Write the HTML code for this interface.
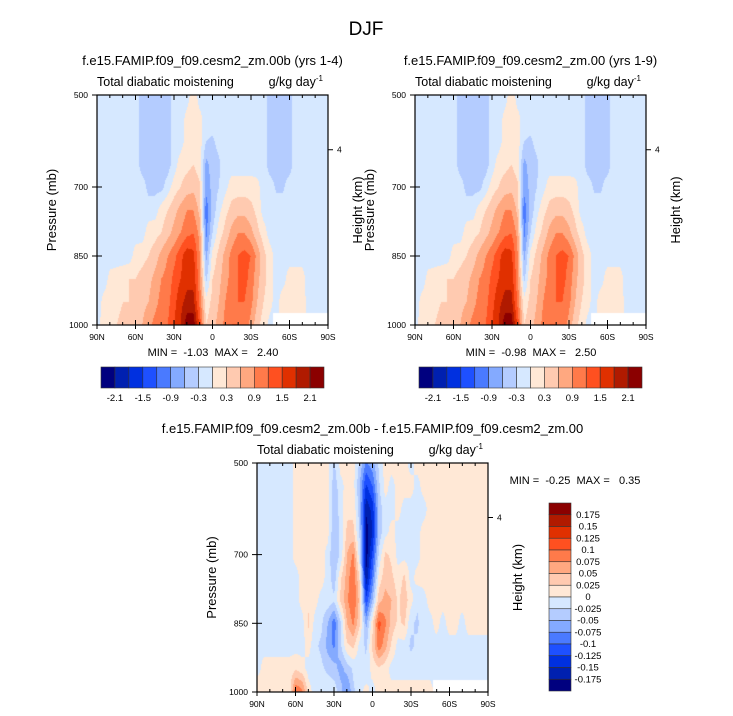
<!DOCTYPE html>
<html><head><meta charset="utf-8">
<style>
body{margin:0;background:#fff;width:733px;height:716px;overflow:hidden;font-family:"Liberation Sans",sans-serif;}
#root{position:relative;width:733px;height:716px;}
canvas{position:absolute;}
svg{position:absolute;left:0;top:0;}
text{white-space:pre;}
</style></head>
<body><div id="root">
<canvas id="c1" width="231" height="230" style="left:97px;top:95px"></canvas>
<canvas id="c2" width="231" height="230" style="left:415px;top:95px"></canvas>
<canvas id="c3" width="231" height="229" style="left:257px;top:463px"></canvas>
<svg id="ov" width="733" height="716"></svg>
</div>
<script>
const pressures=[500,550,600,650,700,750,800,850,900,950,1000];
const xTickLabels=["90N","60N","30N","0","30S","60S","90S"];
const yTickLabels=[500,700,850,1000];
const levelsA=[-2.1,-1.8,-1.5,-1.2,-0.9,-0.6,-0.3,0,0.3,0.6,0.9,1.2,1.5,1.8,2.1];
const levelsB=[-0.175,-0.15,-0.125,-0.1,-0.075,-0.05,-0.025,0,0.025,0.05,0.075,0.1,0.125,0.15,0.175];
const cbLabelsA=["-2.1","-1.5","-0.9","-0.3","0.3","0.9","1.5","2.1"];
const cbLabelsB=["0.175","0.15","0.125","0.1","0.075","0.05","0.025","0","-0.025","-0.05","-0.075","-0.1","-0.125","-0.15","-0.175"];
const colors=["#00007f","#0020b0","#0030e0","#1e50ff","#4a7aff","#84aaff","#b4ccff","#d6e8ff","#ffe8d6","#ffcab0","#ffa880","#ff7a4a","#ff5020","#e03000","#b01a00","#8b0000"];
const N=NaN;
// 37 columns: 90N..90S every 5 deg; rows = pressures
const fieldCtl=[
[-.15,-.15,-.15,-.15,-.15,-.15,-.15,-.45,-.45,-.45,-.45,-.45,-.15,-.15,-.15,.2,-.15,-.15,-.15,-.15,-.15,-.15,-.15,-.15,-.15,-.15,-.15,-.45,-.45,-.45,-.45,-.15,-.15,-.15,-.15,-.15,-.15],
[-.15,-.15,-.15,-.15,-.15,-.15,-.15,-.45,-.45,-.45,-.45,-.45,-.15,-.15,.1,.2,.1,-.15,-.15,-.15,-.15,-.15,-.15,-.15,-.15,-.15,-.15,-.45,-.45,-.45,-.45,-.15,-.15,-.15,-.15,-.15,-.15],
[-.15,-.15,-.15,-.15,-.15,-.15,-.15,-.45,-.45,-.45,-.45,-.45,-.15,-.15,.15,.2,.15,-.3,-.35,-.2,-.15,-.15,-.15,-.15,-.15,-.15,-.15,-.45,-.45,-.45,-.45,-.15,-.15,-.15,-.15,-.15,-.15],
[-.15,-.15,-.15,-.15,-.15,-.15,-.15,-.45,-.45,-.45,-.45,-.45,-.15,.15,.2,.3,.15,-.7,-.45,-.35,-.15,-.15,-.15,-.15,-.15,-.15,-.15,-.45,-.45,-.45,-.45,-.15,-.15,-.15,-.15,-.15,-.15],
[-.15,-.15,-.15,-.15,-.15,-.15,-.15,-.15,-.4,-.4,-.4,-.15,.15,.3,.45,.5,.35,-.8,-.5,-.3,-.1,.15,.15,.15,.15,.1,-.15,-.15,-.35,-.35,-.15,-.15,-.15,-.15,-.15,-.15,-.15],
[-.15,-.15,-.15,-.15,-.15,-.15,-.15,-.15,-.15,-.15,.15,.3,.5,.7,.9,.9,.5,-1.1,-.5,-.1,.2,.4,.5,.5,.4,.2,-.15,-.15,-.15,-.15,-.15,-.15,-.15,-.15,-.15,-.15,-.15],
[-.15,-.15,-.15,-.15,-.15,-.15,-.15,-.15,.15,.2,.3,.5,.7,.9,1.1,1.2,.8,-1.0,-.3,.15,.4,.7,.9,.9,.7,.4,.15,-.15,-.15,-.15,-.15,-.15,-.15,-.15,-.15,-.15,-.15],
[-.15,-.15,-.15,-.15,-.15,-.15,.15,.2,.3,.45,.7,.9,1.1,1.4,1.7,1.6,.9,-.7,.1,.4,.7,1.0,1.2,1.3,1.2,.8,.4,.15,-.15,-.15,-.15,-.15,-.15,-.15,-.15,-.15,-.15],
[-.15,-.15,.1,.15,.2,.3,.3,.4,.5,.7,.9,1.0,1.3,1.5,1.7,1.7,1.0,-.4,.3,.5,.8,1.0,1.2,1.3,1.1,.7,.4,.15,-.15,-.15,.15,.15,.15,-.15,-.15,-.15,-.15],
[-.15,.1,.15,.2,.3,.3,.4,.5,.6,.8,1.0,1.1,1.4,1.7,1.9,1.9,1.1,.1,.4,.6,.9,1.1,1.2,1.2,1.0,.6,.3,.1,-.15,.2,.2,.2,.2,-.15,-.15,-.15,-.15],
[-.1,.15,.2,.3,.4,.45,.5,.6,.8,1.0,1.1,1.2,1.5,1.8,2.3,2.3,1.4,.3,.5,.7,1.0,1.2,1.2,1.1,.8,.4,.15,-.1,N,N,N,N,N,N,N,N,N]
];
const fieldExp=fieldCtl;
const fieldDiff=[
[-.01,-.01,-.01,-.01,-.01,-.01,.01,.01,.01,.01,.01,.01,-.03,.01,.01,.01,-.03,-.08,-.06,-.02,.01,.01,.01,.01,-.01,.01,.01,.01,.01,.01,.01,.01,.01,.01,.01,.01,.01],
[-.01,-.01,-.01,-.01,-.01,-.01,.01,.01,.01,.01,.01,.01,-.04,-.01,.01,.01,-.05,-.13,-.1,-.03,.01,-.01,.01,.01,.01,-.01,.01,.01,.01,.01,.01,.01,.01,.01,.01,.01,.01],
[-.01,-.01,-.01,-.01,-.01,-.01,.01,.01,.01,.01,.01,.01,-.05,-.01,.02,.02,-.04,-.17,-.14,-.04,-.01,-.01,.01,-.01,-.01,-.01,-.01,.01,.01,.01,.01,.01,.01,.01,.01,.01,.01],
[-.01,-.01,-.01,-.01,-.01,-.01,.01,.01,.01,.01,.01,.01,-.05,-.02,.03,.03,-.03,-.19,-.15,-.04,-.01,.01,-.01,-.01,-.01,-.01,.01,.01,.01,.01,.01,.01,.01,.01,.01,.01,.01],
[-.01,-.01,-.01,-.01,-.01,-.01,.01,.01,.01,.01,.01,-.01,-.05,-.02,.05,.08,-.02,-.19,-.12,-.02,.03,.02,-.01,-.01,-.01,-.01,.01,.01,.01,.01,.01,.01,.01,.01,.01,.01,.01],
[-.01,-.01,-.01,-.01,-.01,-.01,-.01,.01,.01,.01,.01,-.01,-.04,.02,.06,.1,.02,-.17,-.09,.01,.04,.03,.01,.03,-.01,.01,.01,.01,.01,.01,.01,.01,.01,.01,.01,.01,.01],
[-.01,-.01,-.01,-.01,-.01,-.01,-.01,.01,.02,.01,-.01,-.01,-.02,.03,.07,.1,.04,-.12,-.05,.04,.06,.05,.02,.04,.01,-.02,-.01,.01,.01,.01,.01,.01,.01,.01,.01,.01,.01],
[-.01,-.01,-.01,-.01,-.01,-.01,-.01,-.01,.03,-.01,-.02,-.05,-.09,-.03,.05,.08,.03,-.06,.02,.11,.08,.04,.02,.03,-.02,-.03,-.01,-.01,.01,-.01,.01,.01,-.01,.01,.01,.01,.01],
[-.01,-.01,-.01,-.01,-.01,-.01,-.01,-.01,.01,-.02,-.03,-.06,-.08,-.03,.02,.03,-.01,-.03,.03,.09,.06,.02,-.01,-.01,-.03,-.02,-.01,-.01,-.01,-.01,-.01,-.01,-.01,-.01,-.01,-.01,-.01],
[-.01,.01,.01,.01,.01,.01,.02,.01,-.01,-.01,-.02,-.03,-.04,-.06,-.04,-.02,-.01,-.02,.01,.02,.01,-.01,-.01,-.01,-.01,-.01,-.01,-.01,-.01,-.01,-.01,-.01,-.01,-.01,-.01,-.01,-.01],
[.02,.01,.01,.01,.01,.01,.1,.08,.01,-.01,-.01,-.01,-.01,-.04,-.08,-.03,-.01,.01,-.01,.01,.01,.01,.01,.01,.01,.01,.01,.01,N,N,N,N,N,N,N,N,N]
];

function colorFor(v,levels){let k=0;while(k<levels.length&&v>=levels[k])k++;return colors[k];}
function hex(c){return [parseInt(c.substr(1,2),16),parseInt(c.substr(3,2),16),parseInt(c.substr(5,2),16)];}
function drawField(id,field,levels){
  const cv=document.getElementById(id),ctx=cv.getContext('2d'),W=cv.width,H=cv.height;
  const img=ctx.createImageData(W,H);const nc=field[0].length;
  for(let y=0;y<H;y++){
    const p=500+500*y/(H-1);
    let r=0;while(r<pressures.length-2&&p>pressures[r+1])r++;
    const fy=(p-pressures[r])/(pressures[r+1]-pressures[r]);
    for(let x=0;x<W;x++){
      const gx=x/(W-1)*(nc-1);let c=Math.min(Math.floor(gx),nc-2);const fx=gx-c;
      const nr=fy<0.5?r:r+1,ncol=fx<0.5?c:c+1;
      let rgb;
      if(isNaN(field[nr][ncol])){rgb=[255,255,255];}
      else{
        let a=field[r][c],b=field[r][c+1],d=field[r+1][c],e=field[r+1][c+1];
        if(isNaN(d))d=a;if(isNaN(e))e=b;if(isNaN(a))a=d;if(isNaN(b))b=e;
        const v=(a*(1-fx)+b*fx)*(1-fy)+(d*(1-fx)+e*fx)*fy;
        rgb=hex(colorFor(v,levels));
      }
      const i=(y*W+x)*4;img.data[i]=rgb[0];img.data[i+1]=rgb[1];img.data[i+2]=rgb[2];img.data[i+3]=255;
    }
  }
  ctx.putImageData(img,0,0);
}
drawField('c1',fieldCtl,levelsA);
drawField('c2',fieldExp,levelsA);
drawField('c3',fieldDiff,levelsB);

const NS="http://www.w3.org/2000/svg";const ov=document.getElementById('ov');
function el(tag,attrs,txt){const e=document.createElementNS(NS,tag);for(const k in attrs)e.setAttribute(k,attrs[k]);if(txt!==undefined)e.textContent=txt;ov.appendChild(e);return e;}
function txt(x,y,s,size,anchor,name,rot){const t=el('text',{x:x,y:y,'font-size':size,'text-anchor':anchor||'middle',fill:'#000','font-family':'Liberation Sans, sans-serif'},s);
  if(rot)t.setAttribute('transform','rotate(-90 '+x+' '+y+')');
  
  return t;}
el('text',{x:366,y:35,'font-size':19,'text-anchor':'middle','font-family':'Liberation Sans, sans-serif'},'DJF');

function panel(x0,y0,w,h,title,minmax,mmx,mmy,pfx){
  const r=el('rect',{x:x0,y:y0,width:w,height:h,fill:'none',stroke:'#000','stroke-width':1.2});
  
  txt(x0+w/2,y0-30,title,13,'middle',pfx+'-title');
  txt(x0,y0-9,'Total diabatic moistening',12.5,'start',pfx+'-variable-label');
  const u=txt(x0+w-5,y0-9,'g/kg day',12.5,'end',pfx+'-units');
  const sup=document.createElementNS(NS,'tspan');sup.setAttribute('font-size',8);sup.setAttribute('dy',-5);sup.textContent='-1';u.appendChild(sup);
  for(let k=0;k<=18;k++){
    const x=x0+w*k/18,L=(k%3==0)?5:3;
    el('line',{x1:x,y1:y0+h,x2:x,y2:y0+h-L,stroke:'#000'});
    el('line',{x1:x,y1:y0,x2:x,y2:y0+L,stroke:'#000'});
    if(k%3==0){el('line',{x1:x,y1:y0+h,x2:x,y2:y0+h+4,stroke:'#000'});
      txt(x,y0+h+15,xTickLabels[k/3],8.5,'middle',pfx+'-x-tick-label');}
  }
  yTickLabels.forEach(p=>{const y=y0+(p-500)/500*h;
    el('line',{x1:x0-5,y1:y,x2:x0+5,y2:y,stroke:'#000'});
    txt(x0-9,y+3,String(p),8.5,'end',pfx+'-y-tick-label');});
  const hy=y0+h*0.238;
  el('line',{x1:x0+w,y1:hy,x2:x0+w+5,y2:hy,stroke:'#000'});
  txt(x0+w+9,hy+3,'4',8.5,'start',pfx+'-height-tick-label');
  txt(x0-41,y0+h/2,'Pressure (mb)',13,'middle',pfx+'-y-axis-title',true);
  txt(x0+w+34,y0+h/2,'Height (km)',13,'middle',pfx+'-right-axis-title',true);
  txt(mmx,mmy,minmax,11,'middle',pfx+'-min-max');
}
panel(97,95,231,230,'f.e15.FAMIP.f09_f09.cesm2_zm.00b (yrs 1-4)','MIN =  -1.03  MAX =   2.40',213,356,'panel1');
panel(415,95,231,230,'f.e15.FAMIP.f09_f09.cesm2_zm.00 (yrs 1-9)','MIN =  -0.98  MAX =   2.50',531,356,'panel2');
panel(257,463,231,229,'f.e15.FAMIP.f09_f09.cesm2_zm.00b - f.e15.FAMIP.f09_f09.cesm2_zm.00','MIN =  -0.25  MAX =   0.35',575,484,'panel3');

function hbar(x0,pfx){
  const y0=367,h=21,bw=223/16;
  colors.forEach((c,i)=>{const r=el('rect',{x:x0+i*bw,y:y0,width:bw,height:h,fill:c,stroke:'#333','stroke-width':0.6});
    });
  cbLabelsA.forEach((s,j)=>txt(x0+(2*j+1)*bw,y0+h+13,s,9.5,'middle',pfx+'-colorbar-label'));
}
hbar(101,'panel1');hbar(419,'panel2');
(function(){const x0=549,y0=503,w=22,bh=188/16;
  colors.slice().reverse().forEach((c,i)=>{const r=el('rect',{x:x0,y:y0+i*bh,width:w,height:bh,fill:c,stroke:'#333','stroke-width':0.6});
    });
  cbLabelsB.forEach((s,j)=>txt(588,y0+(j+1)*bh+3,s,9.5,'middle','diff-colorbar-label'));
})();
</script></body></html>
